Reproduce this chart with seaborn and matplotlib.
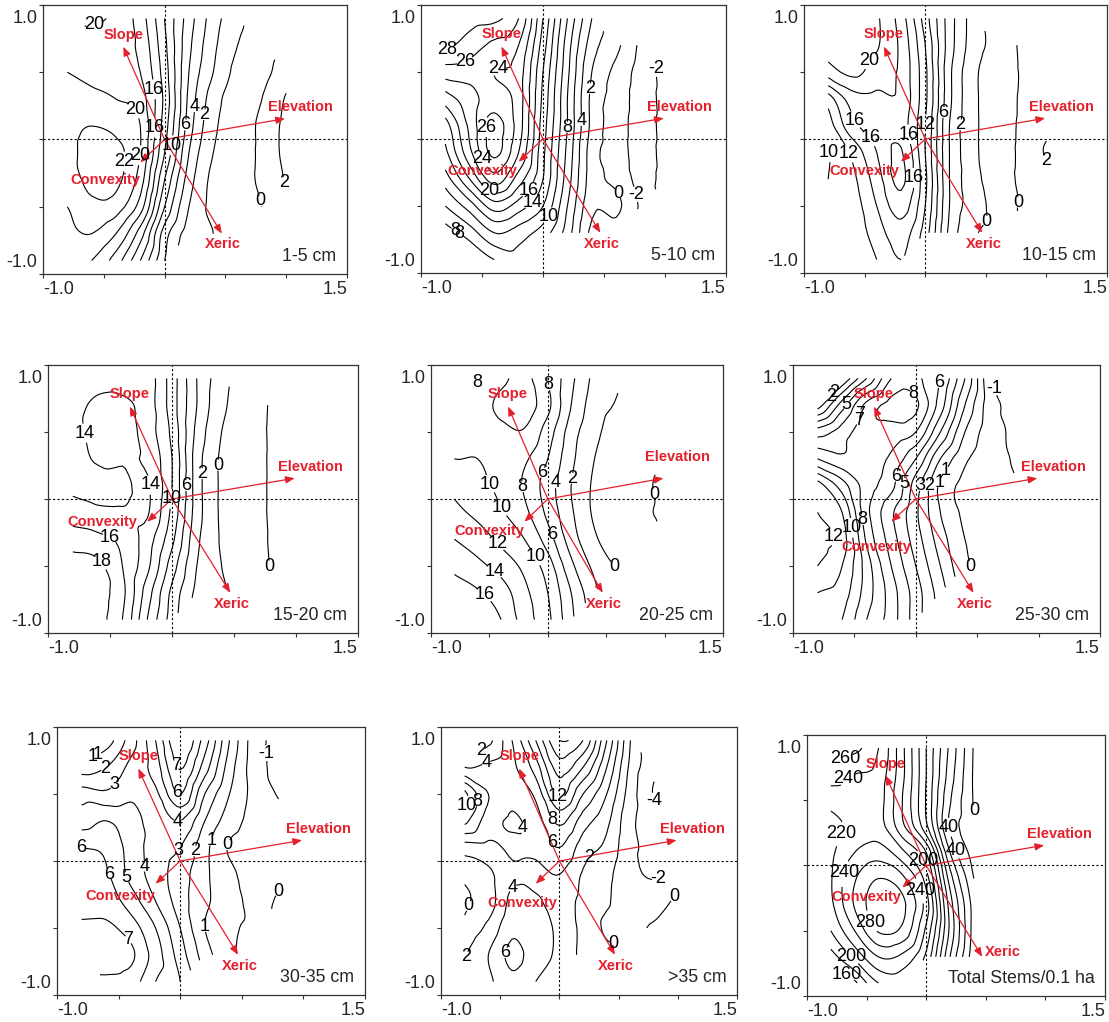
import numpy as np
import matplotlib
matplotlib.use("Agg")
import matplotlib.pyplot as plt
from matplotlib.tri import Triangulation, UniformTriRefiner, CubicTriInterpolator
import seaborn as sns

nan = np.nan

# grid nodes of the ordination surface (rows top->bottom, cols left->right)
grid_x = [-0.8, -0.6, -0.4, -0.2, 0.0, 0.2, 0.4, 0.6, 0.8, 1.0]
grid_y = [0.9, 0.7, 0.5, 0.3, 0.1, -0.1, -0.3, -0.5, -0.7, -0.9]

z_1_5 = [
    [nan, 20.5, 19.5, 17, 12, 7, 3, 0.5, nan, nan],
    [19, 18.5, 18.5, 17.5, 12.5, 6.5, 2.5, 0, -0.5, nan],
    [20, 19.5, 19, 18, 13, 6, 2, -0.5, -0.5, 1],
    [21, 20.5, 20, 19, 13.5, 5.5, 1, -1, 0, 2.2],
    [21.5, 22, 21.5, 20, 13, 5, 0.5, -1, 0.5, 2.6],
    [21.5, 22.5, 22.5, 20, 12, 4, 0, -1, 0.5, 2.6],
    [21, 22.5, 22.5, 19, 10, 3, -0.5, -1, 0.5, 2.2],
    [20, 21.5, 21, 17, 8, 2, -0.5, -0.5, 0, nan],
    [19.5, 20, 18, 13, 5, 1, 0, nan, nan, nan],
    [nan, 18, 15, 10, 4, nan, nan, nan, nan, nan],
]
z_5_10 = [
    [nan, 29, 28.5, 26, 18, 10, 4, nan, nan, nan],
    [28.5, 27, 25.5, 24, 17, 9, 3, 0.5, -2.3, nan],
    [25, 25, 24, 23, 16, 8.5, 2, -0.5, -2.5, -1.5],
    [21, 23, 25, 23, 15.5, 8, 1.5, -0.8, -2.6, -1.5],
    [17, 22.5, 26.8, 23, 15, 8, 1.5, -1, -2.6, -1.5],
    [15.5, 21.5, 26.5, 22, 14.5, 7.5, 1, -1, -2.6, -1.5],
    [13, 18, 23, 19, 14, 7, 1, -0.5, -2.5, -1.5],
    [10, 13, 17, 15, 12, 6, 0.5, 0.5, -2.2, nan],
    [7, 9, 12, 11, 9, 5, -0.5, -1, nan, nan],
    [nan, 6, 8, 9, nan, nan, nan, nan, nan, nan],
]
z_10_15 = [
    [nan, nan, 20.3, 17, 11, 5, 1, nan, nan, nan],
    [21, 21.5, 20.2, 17.5, 12, 5, 1, -0.5, 0.2, nan],
    [19, 20.5, 19, 17.5, 12.5, 4.5, 0.5, -1, 0.2, nan],
    [13, 17, 17.5, 17.5, 12.5, 4.5, 0.5, -1, 0.3, nan],
    [11, 15.5, 16.5, 17, 12, 4, 0.5, -1, 0.4, 1.5],
    [10, 12.5, 16, 18.2, 12, 4, 0.5, -1, 0.5, 2.2],
    [10, 11.5, 15, 18.5, 12.5, 4, 0.8, -1, 0.5, 1.5],
    [10.5, 11, 14, 17, 12, 4, 1, -0.5, 0.2, nan],
    [nan, 10.5, 13, 15, 11, 3.5, 0.3, -0.5, nan, nan],
    [nan, 10, 12, 14, nan, nan, nan, nan, nan, nan],
]
z_15_20 = [
    [nan, 13, 13, 13, 9, 4, 0.8, nan, nan, nan],
    [13, 14.5, 14.5, 13, 9, 4, 0.5, -1, 0.2, nan],
    [13, 15, 15, 13, 9.5, 3.5, 0, -1.2, 0.3, nan],
    [13, 14.3, 14.2, 13.5, 10, 3, -0.3, -1.2, 0.3, nan],
    [13.5, 13, 13.5, 14.3, 10, 3, -0.3, -1.2, 0.3, nan],
    [15, 14.5, 14.2, 14.2, 9.5, 3, -0.3, -1.2, 0.3, nan],
    [17, 16.5, 15.5, 13, 8.5, 2.5, -0.2, -1, 0.2, nan],
    [19, 18.5, 16, 12.5, 7, 2, 0, -1, 0.1, nan],
    [nan, 19, 16.5, 11, 5.5, 1.5, 0.3, nan, nan, nan],
    [nan, 19, 16, 10, 5, nan, nan, nan, nan, nan],
]
z_20_25 = [
    [nan, 7.8, 9.5, 10.5, 8, 4.5, 1.5, 0.2, nan, nan],
    [nan, 9, 10.5, 11, 8.5, 4, 1, -0.2, nan, nan],
    [9, 9.5, 9.5, 9.8, 7, 3, 0.5, -0.8, -1, nan],
    [10, 10, 9, 8.3, 6, 2.5, 0, -1, -0.8, nan],
    [11.5, 10.5, 9.5, 7.8, 5, 2, -0.3, -1.2, -0.5, 0.6],
    [12.5, 11.5, 10.2, 8.5, 5.5, 2.3, -0.3, -1.2, -0.3, 0.3],
    [14, 13, 11.5, 10, 7, 3, 0.3, -1, -0.5, nan],
    [15.5, 14.5, 13.2, 11.5, 9, 4.5, 1.5, -0.2, nan, nan],
    [17, 16.2, 15, 12.5, 10, 6, 2.5, nan, nan, nan],
    [nan, 17, 16, 13, 10.5, 6.5, nan, nan, nan, nan],
]
z_25_30 = [
    [nan, 1, 4, 7, 7.2, 6, 3, -0.8, nan, nan],
    [1.5, 4.5, 7.3, 8.3, 8.2, 5.5, 2, -0.5, -1.3, nan],
    [5.5, 6.5, 7.6, 7.6, 7, 4, 1, -0.5, -1.2, nan],
    [8, 7.2, 7.4, 6.8, 5, 2, 0.2, -0.5, -1.1, nan],
    [11.5, 9.5, 7.5, 6.3, 3.5, 0.8, -0.3, -0.8, -0.9, nan],
    [12, 11, 7.3, 5.2, 3.2, 1, -0.2, -0.6, -0.5, nan],
    [12.5, 11.5, 7.8, 5.5, 3.5, 1.5, 0, -0.4, nan, nan],
    [12, 11, 8.5, 6, 4, 2, 0.2, -0.2, nan, nan],
    [11, 10.5, 8.5, 6.5, 4.5, 2.5, nan, nan, nan, nan],
    [nan, 10, 8, 6.5, 4.5, nan, nan, nan, nan, nan],
]
z_30_35 = [
    [nan, 0.5, 2.5, 5, 8, 5.5, 2, -0.5, -1.3, nan],
    [1.5, 2, 3.3, 4.5, 7.1, 4.5, 1.5, -0.5, -1.3, nan],
    [3.5, 3.2, 3.8, 3.8, 6, 3, 1, -0.3, -1.1, nan],
    [4.5, 5, 4.5, 3.5, 4, 2, 0.5, -0.3, -0.5, nan],
    [6, 5.8, 4.6, 3.5, 3, 1.3, -0.1, -0.4, -0.4, nan],
    [6.2, 6.1, 4.7, 3.5, 2.5, 1.2, 0.3, -0.5, -0.2, nan],
    [6.5, 6.5, 5.5, 4, 2.5, 1.2, 0.5, -0.3, 0.1, nan],
    [7.2, 7.2, 6.5, 5, 3, 1, 0.2, -0.2, nan, nan],
    [7.3, 7.5, 7.2, 5.5, 3.5, 1.5, 0.2, nan, nan, nan],
    [nan, 6.8, 6.5, 5, 4, nan, nan, nan, nan, nan],
]
z_35_up = [
    [nan, 1.5, 6, 12, 18, 16, 8, 0, nan, nan],
    [4, 4.5, 5.5, 9, 15, 12, 6, -0.5, -3.5, nan],
    [10.5, 6, 4.5, 6.5, 12.5, 8, 4, -1, -4.2, nan],
    [8.5, 5, 3.8, 5, 8.5, 5, 2.5, -1.5, -3, nan],
    [3, 3.5, 4.3, 4.5, 6, 3, 1.5, -1.5, -2.5, nan],
    [0.5, 1.5, 3.7, 3.5, 4, 1.8, 0.5, -1.5, -2.2, nan],
    [-0.3, 1, 4.5, 4.3, 3, 1.5, 0.2, -1, -1, 0.5],
    [0.5, 2.5, 5.5, 5, 3.5, 1.5, -0.3, -0.5, 0.3, nan],
    [1.8, 4, 6.5, 5, 3.5, 1.5, 0.5, nan, nan, nan],
    [nan, 3.5, 5.5, 4, nan, nan, nan, nan, nan, nan],
]
z_total = [
    [nan, 265, 240, 185, 120, 55, -2, nan, nan, nan],
    [250, 240, 232, 185, 120, 50, -3, nan, nan, nan],
    [228, 230, 228, 180, 118, 42, -2, nan, nan, nan],
    [212, 225, 228, 185, 125, 36, 4, nan, nan, nan],
    [215, 240, 250, 225, 180, 60, 10, nan, nan, nan],
    [218, 258, 280, 265, 210, 90, 20, nan, nan, nan],
    [215, 262, 292, 285, 230, 110, 30, nan, nan, nan],
    [200, 240, 282, 275, 215, 115, 30, nan, nan, nan],
    [170, 205, 240, 235, 195, 100, 25, nan, nan, nan],
    [nan, 155, 200, 205, nan, nan, nan, nan, nan, nan],
]

panel_names = ["1-5 cm", "5-10 cm", "10-15 cm", "15-20 cm", "20-25 cm",
               "25-30 cm", "30-35 cm", ">35 cm", "Total Stems/0.1 ha"]
surfaces = [z_1_5, z_5_10, z_10_15, z_15_20, z_20_25,
            z_25_30, z_30_35, z_35_up, z_total]
contour_step = [2, 2, 2, 2, 2, 1, 1, 2, 20]

# biplot vectors
vec_names = ["Slope", "Elevation", "Convexity", "Xeric"]
vec_x = [-0.34, 0.99, -0.20, 0.47]
vec_y = [0.69, 0.155, -0.17, -0.70]

# where the contour labels sit (approx. read off)
label_spots = [
    [(-0.58, 0.88), (-0.11, 0.37), (-0.27, 0.2), (-0.1, 0.09), (0.04, -0.04), (-0.19, -0.12),
     (-0.5, -0.16), (0.16, 0.11), (0.28, 0.24), (0.36, 0.18), (0.78, -0.46), (0.93, -0.45)],
    [(-0.8, 0.72), (-0.63, 0.55), (-0.37, 0.53), (-0.44, 0.09), (-0.5, -0.15), (-0.43, -0.37),
     (-0.14, -0.36), (-0.07, -0.5), (0.07, -0.6), (-0.7, -0.65), (-0.74, -0.77), (0.18, 0.09),
     (0.34, 0.14), (0.44, 0.37), (0.62, -0.4), (0.8, -0.4), (0.89, 0.52)],
    [(-0.43, 0.54), (-0.61, 0.12), (-0.78, -0.02), (-0.6, -0.09), (-0.46, 0.0), (-0.16, 0.03),
     (-0.02, 0.11), (0.13, 0.2), (0.26, 0.11), (-0.11, -0.29), (0.5, -0.61), (0.79, -0.48),
     (0.93, -0.2)],
    [(-0.58, 0.52), (-0.16, 0.11), (0.0, 0.0), (0.1, 0.1), (0.25, 0.19), (0.41, 0.25),
     (-0.52, -0.35), (-0.57, -0.47), (0.81, -0.5)],
    [(-0.69, 0.87), (-0.05, 0.84), (-0.47, 0.13), (-0.28, 0.08), (-0.43, -0.09), (-0.47, -0.38),
     (-0.45, -0.53), (-0.51, -0.67), (-0.03, 0.19), (0.07, 0.12), (0.18, 0.16), (0.04, -0.26),
     (-0.09, -0.42), (0.63, -0.45), (0.96, 0.05)],
    [(-0.76, 0.9), (-0.66, 0.77), (-0.56, 0.7), (-0.48, 0.64), (-0.39, 0.55), (-0.01, 0.8),
     (0.19, 0.87), (0.66, 0.84), (-0.16, 0.17), (-0.07, 0.11), (0.01, 0.11), (0.09, 0.11),
     (0.17, 0.14), (0.25, 0.2), (-0.63, -0.27), (-0.5, -0.21), (-0.42, -0.15), (0.57, -0.49)],
    [(-0.73, 0.89), (-0.67, 0.79), (-0.61, 0.69), (-0.54, 0.57), (-0.03, 0.72), (-0.03, 0.5),
     (-0.02, 0.29), (-0.03, 0.1), (0.1, 0.08), (0.24, 0.16), (0.39, 0.12), (0.71, 0.81),
     (-0.81, 0.05), (-0.27, -0.04), (-0.63, -0.13), (-0.45, -0.13), (-0.43, -0.6), (0.2, -0.49),
     (0.98, -0.1)],
    [(-0.68, 0.87), (-0.62, 0.74), (-0.8, 0.43), (-0.65, 0.44), (-0.32, 0.25), (-0.02, 0.48),
     (-0.06, 0.31), (-0.08, 0.12), (0.9, 0.43), (0.28, 0.0), (0.84, -0.06), (0.95, -0.21),
     (-0.4, -0.19), (-0.78, -0.33), (0.51, -0.51), (-0.8, -0.72), (-0.42, -0.69)],
    [(-0.69, 0.85), (-0.65, 0.64), (-0.75, 0.28), (-0.65, -0.08), (-0.46, -0.43), (-0.63, -0.71),
     (-0.67, -0.85), (-0.03, 0.03), (-0.04, -0.18), (0.17, 0.28), (0.26, 0.13), (0.39, 0.39)],
]

# panel boxes in pixels: left, top, right, bottom
boxes = [(43, 5, 347, 274), (421, 5, 726, 273), (804, 5, 1107, 273),
         (48, 365, 358, 633), (431, 365, 723, 633), (793, 365, 1100, 633),
         (57, 727, 365, 995), (441, 727, 737, 995), (807, 735, 1105, 996)]

red = "#e3202c"
vec_text = {"Slope": (-0.34, 0.78), "Elevation": (1.12, 0.24),
            "Convexity": (-0.5, -0.24), "Xeric": (0.48, -0.78)}
vec_text_fix = {0: {"Convexity": (-0.49, -0.30)}, 3: {"Convexity": (-0.56, -0.17)},
                4: {"Elevation": (1.11, 0.31)}, 5: {"Convexity": (-0.32, -0.36)},
                6: {"Convexity": (-0.49, -0.26)}, 7: {"Convexity": (-0.31, -0.31)},
                8: {"Xeric": (0.64, -0.66)}}


def surface_mesh(rows):
    # triangles over the grid cells that have data, smoothed for drawing
    z = np.array(rows, dtype=float)
    idx = -np.ones(z.shape, dtype=int)
    px, py, pz, tris = [], [], [], []

    def node(r, c):
        if idx[r, c] < 0:
            idx[r, c] = len(px)
            px.append(grid_x[c])
            py.append(grid_y[r])
            pz.append(z[r, c])
        return idx[r, c]

    for r in range(z.shape[0] - 1):
        for c in range(z.shape[1] - 1):
            corners = [(r, c), (r, c + 1), (r + 1, c + 1), (r + 1, c)]
            ok = [not np.isnan(z[a, b]) for a, b in corners]
            if all(ok):
                a, b, cc, d = [node(*p) for p in corners]
                tris += [[a, b, cc], [a, cc, d]]
            elif sum(ok) == 3:
                tris.append([node(*p) for p, o in zip(corners, ok) if o])
    tri = Triangulation(px, py, tris)
    zz = np.array(pz)
    interp = CubicTriInterpolator(tri, zz, kind="geom")
    return UniformTriRefiner(tri).refine_field(zz, triinterpolator=interp, subdiv=3)


sns.set_theme(style="white")
plt.rcParams["font.family"] = ["Liberation Sans", "DejaVu Sans"]
plt.rcParams["contour.negative_linestyle"] = "solid"

W, H = 1109, 1022
fig = plt.figure(figsize=(W / 100, H / 100), dpi=100)

for i in range(9):
    l, t, r, b = boxes[i]
    ax = fig.add_axes([l / W, 1 - b / H, (r - l) / W, (b - t) / H])
    zarr = np.array(surfaces[i], dtype=float)
    step = contour_step[i]
    lev = np.arange(np.floor(np.nanmin(zarr) / step) * step, np.nanmax(zarr) + step, step)

    ax.axvline(0, color="black", lw=0.8, ls=(0, (2, 2)), zorder=1)
    ax.axhline(0, color="black", lw=0.8, ls=(0, (2, 2)), zorder=1)

    tri_f, z_f = surface_mesh(surfaces[i])
    cs = ax.tricontour(tri_f, z_f, levels=lev, colors="black", linewidths=0.8, zorder=2)
    txts = ax.clabel(cs, fmt=lambda v: f"{v:g}", manual=label_spots[i], inline=True,
                     inline_spacing=1, fontsize=13, colors="black")
    for tx in txts:
        tx.set_rotation(0)

    for name, vx, vy in zip(vec_names, vec_x, vec_y):
        ax.annotate("", xy=(vx, vy), xytext=(0, 0),
                    arrowprops=dict(arrowstyle="-|>,head_length=0.45,head_width=0.18",
                                    color=red, lw=0.9, shrinkA=0, shrinkB=0), zorder=3)
        tx_pos = vec_text_fix.get(i, {}).get(name, vec_text[name])
        ax.text(tx_pos[0], tx_pos[1], name, color=red, fontsize=10.5, fontweight="bold",
                ha="center", va="center", zorder=4)

    ax.text(0.965, 0.035, panel_names[i], transform=ax.transAxes, ha="right", va="bottom",
            fontsize=12.8)

    ax.set_xlim(-1.0, 1.5)
    ax.set_ylim(-1.0, 1.0)
    ax.set_xticks([-1.0, -0.5, 0, 0.5, 1.0, 1.5])
    ax.set_yticks([-1.0, -0.5, 0, 0.5, 1.0])
    ax.set_xticklabels([])
    ax.set_yticklabels([])
    ax.tick_params(direction="out", length=3, width=0.8, colors="#333333",
                   bottom=True, left=True)
    # end labels only, set a little inside like the original
    ax.annotate("-1.0", (0, 0), xycoords="axes fraction", xytext=(0, -11.5),
                textcoords="offset points", ha="left", va="center", fontsize=13)
    ax.annotate("1.5", (1, 0), xycoords="axes fraction", xytext=(0, -11.5),
                textcoords="offset points", ha="right", va="center", fontsize=13)
    ax.annotate("1.0", (0, 1), xycoords="axes fraction", xytext=(-4, -10),
                textcoords="offset points", ha="right", va="center", fontsize=13)
    ax.annotate("-1.0", (0, 0), xycoords="axes fraction", xytext=(-4, 8),
                textcoords="offset points", ha="right", va="center", fontsize=13)
    for sp in ax.spines.values():
        sp.set_color("#333333")
        sp.set_linewidth(0.9)

fig.savefig("out.png", dpi=100)
